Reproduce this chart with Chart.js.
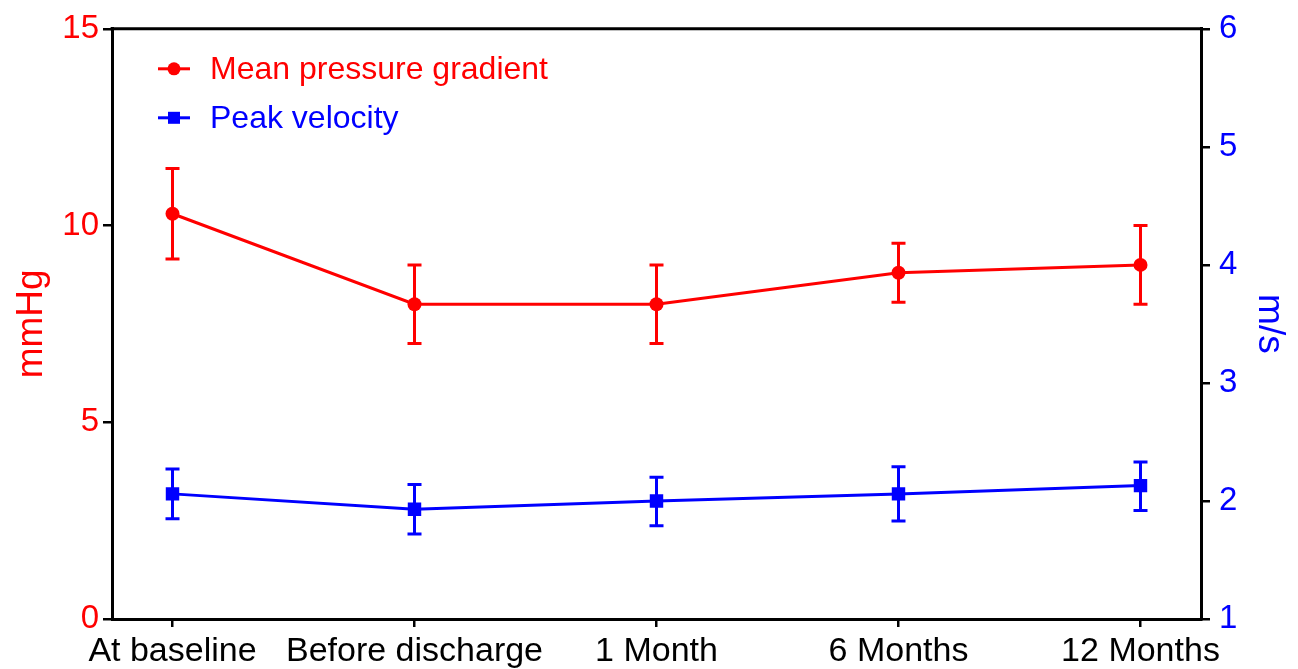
<!DOCTYPE html>
<html>
<head>
<meta charset="utf-8">
<script src="https://cdn.jsdelivr.net/npm/chart.js@4/dist/chart.umd.min.js"></script>
<style>
  body { margin: 0; background: #fff; }
  canvas { display: block; }
</style>
</head>
<body>
<canvas id="myChart" width="1298" height="669"></canvas>
<script>
// categories along the x axis
let categories = ['At baseline', 'Before discharge', '1 Month', '6 Months', '12 Months'];

// mean pressure gradient (mmHg), left axis
let mpgMean = [10.3, 8.0, 8.0, 8.8, 9.0];
let mpgLow  = [9.15, 7.0, 7.0, 8.05, 8.0];
let mpgHigh = [11.45, 9.0, 9.0, 9.55, 10.0];

// peak velocity (m/s), right axis
let pvMean = [2.06, 1.93, 2.0, 2.06, 2.13];
let pvLow  = [1.85, 1.72, 1.79, 1.83, 1.92];
let pvHigh = [2.27, 2.14, 2.2, 2.29, 2.33];

// axis ticks
let mmHgTicks = [0, 5, 10, 15];
let msTicks = [1, 2, 3, 4, 5, 6];

const RED = '#ff0000';
const BLUE = '#0000ff';
const FONT = 'Arial, "Liberation Sans", sans-serif';

function toPoints(vals) {
    return vals.map((v, i) => ({ x: i, y: v }));
}

// error bars drawn from the low/high arrays through each dataset's y scale
const errorBars = {
    id: 'errorBars',
    afterDatasetsDraw(chart) {
        const ctx = chart.ctx;
        chart.data.datasets.forEach((ds, i) => {
            const meta = chart.getDatasetMeta(i);
            const scale = chart.scales[ds.yAxisID];
            ctx.save();
            ctx.strokeStyle = ds.borderColor;
            ctx.lineWidth = 3;
            meta.data.forEach((pt, j) => {
                const yLo = scale.getPixelForValue(ds.errLow[j]);
                const yHi = scale.getPixelForValue(ds.errHigh[j]);
                ctx.beginPath();
                ctx.moveTo(pt.x, yLo);
                ctx.lineTo(pt.x, yHi);
                ctx.moveTo(pt.x - 7, yLo);
                ctx.lineTo(pt.x + 7, yLo);
                ctx.moveTo(pt.x - 7, yHi);
                ctx.lineTo(pt.x + 7, yHi);
                ctx.stroke();
            });
            ctx.restore();
        });
    }
};

// top frame line plus the in-plot legend
const frameAndLegend = {
    id: 'frameAndLegend',
    afterDraw(chart) {
        const ctx = chart.ctx;
        const a = chart.chartArea;
        ctx.save();
        ctx.strokeStyle = '#000';
        ctx.lineWidth = 3;
        ctx.beginPath();
        ctx.moveTo(a.left - 1.5, a.top);
        ctx.lineTo(a.right + 1.5, a.top);
        ctx.stroke();

        chart.data.datasets.forEach((ds, i) => {
            const y = a.top + 40 + i * 49;
            const x0 = a.left + 46;
            ctx.strokeStyle = ds.borderColor;
            ctx.fillStyle = ds.borderColor;
            ctx.lineWidth = 3;
            ctx.beginPath();
            ctx.moveTo(x0, y);
            ctx.lineTo(x0 + 32, y);
            ctx.stroke();
            ctx.beginPath();
            if (ds.pointStyle === 'rect') {
                ctx.rect(x0 + 10, y - 6, 12, 12);
            } else {
                ctx.arc(x0 + 16, y, 6.5, 0, Math.PI * 2);
            }
            ctx.fill();
            ctx.font = '32px ' + FONT;
            ctx.textBaseline = 'middle';
            ctx.fillText(ds.label, x0 + 52, y + 1);
        });
        ctx.restore();
    }
};

const axisStyle = {
    drawOnChartArea: false,
    color: '#000',
    lineWidth: 2.5,
    tickLength: 9
};

let chart = new Chart(document.getElementById('myChart').getContext('2d'), {
    type: 'line',
    data: {
        datasets: [{
            label: 'Mean pressure gradient',
            data: toPoints(mpgMean),
            errLow: mpgLow,
            errHigh: mpgHigh,
            yAxisID: 'yL',
            borderColor: RED,
            backgroundColor: RED,
            borderWidth: 3,
            pointStyle: 'circle',
            pointRadius: 7,
            pointBorderWidth: 0,
            tension: 0
        }, {
            label: 'Peak velocity',
            data: toPoints(pvMean),
            errLow: pvLow,
            errHigh: pvHigh,
            yAxisID: 'yR',
            borderColor: BLUE,
            backgroundColor: BLUE,
            borderWidth: 3,
            pointStyle: 'rect',
            pointRadius: 9.5,
            pointBorderWidth: 0,
            tension: 0
        }]
    },
    options: {
        responsive: false,
        animation: false,
        devicePixelRatio: 1,
        layout: { padding: { top: 26, left: 0, right: 0, bottom: 0 } },
        plugins: {
            legend: { display: false },
            tooltip: { enabled: false }
        },
        scales: {
            x: {
                type: 'linear',
                min: -0.25,
                max: 4.25,
                afterFit(s) { s.height = 50; },
                afterBuildTicks(s) { s.ticks = categories.map((c, i) => ({ value: i })); },
                ticks: {
                    autoSkip: false,
                    maxRotation: 0,
                    padding: 4,
                    color: '#000',
                    font: { family: FONT, size: 34 },
                    callback: (v) => categories[v]
                },
                grid: Object.assign({}, axisStyle, { tickLength: 8 }),
                border: { color: '#000', width: 3 }
            },
            yL: {
                position: 'left',
                min: 0,
                max: 15,
                afterFit(s) { s.width = 112; },
                afterBuildTicks(s) { s.ticks = mmHgTicks.map(v => ({ value: v })); },
                ticks: {
                    padding: 4,
                    color: RED,
                    font: { family: FONT, size: 33 }
                },
                title: {
                    display: true,
                    text: 'mmHg',
                    color: RED,
                    padding: { top: 10, bottom: 0 },
                    font: { family: FONT, size: 37 }
                },
                grid: axisStyle,
                border: { color: '#000', width: 3 }
            },
            yR: {
                position: 'right',
                min: 1,
                max: 6,
                afterFit(s) { s.width = 97; },
                afterBuildTicks(s) { s.ticks = msTicks.map(v => ({ value: v })); },
                ticks: {
                    padding: 9,
                    color: BLUE,
                    font: { family: FONT, size: 33 }
                },
                title: {
                    display: true,
                    text: 'm/s',
                    color: BLUE,
                    padding: { top: 7, bottom: 0 },
                    font: { family: FONT, size: 37 }
                },
                grid: axisStyle,
                border: { color: '#000', width: 3 }
            }
        }
    },
    plugins: [errorBars, frameAndLegend]
});
</script>
</body>
</html>
